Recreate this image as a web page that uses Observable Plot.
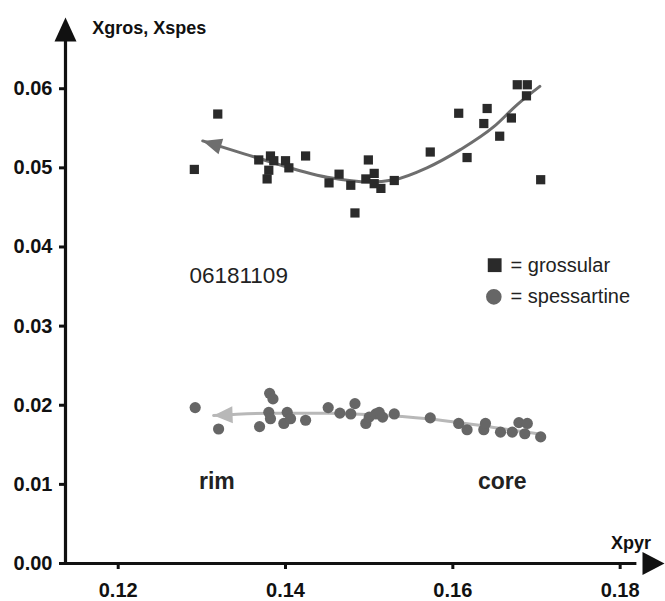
<!DOCTYPE html>
<html><head><meta charset="utf-8">
<script src="https://cdn.jsdelivr.net/npm/d3@7"></script>
<script src="https://cdn.jsdelivr.net/npm/@observablehq/plot@0.6"></script>
<style>html,body{margin:0;padding:0;background:#fff}#chart svg{display:block}</style>
</head><body><div id="chart"></div>
<script>
// ---- scales / ticks ----
const xDomain = [0.1137, 0.1853];
const yDomain = [0, 0.069];
const xTicks = [0.12, 0.14, 0.16, 0.18];
const yTicks = [0, 0.01, 0.02, 0.03, 0.04, 0.05, 0.06];

// ---- grossular (squares) ----
const grosX = [0.1291,0.1319,0.1368,0.1382,0.1386,0.1380,0.1378,0.1400,0.1404,0.1424,0.1452,0.1464,0.1478,0.1483,0.1496,0.1499,0.1506,0.1506,0.1514,0.1530,0.1573,0.1607,0.1617,0.1637,0.1641,0.1656,0.1670,0.1677,0.1689,0.1688,0.1705];
const grosY = [0.0498,0.0568,0.0510,0.0515,0.0509,0.0497,0.0486,0.0509,0.0500,0.0515,0.0481,0.0492,0.0478,0.0443,0.0486,0.0510,0.0493,0.0480,0.0474,0.0484,0.0520,0.0569,0.0513,0.0556,0.0575,0.0540,0.0563,0.0605,0.0605,0.0591,0.0485];

// ---- spessartine (circles) ----
const spesX = [0.1292,0.1320,0.1369,0.1380,0.1381,0.1385,0.1382,0.1398,0.1402,0.1406,0.1424,0.1451,0.1465,0.1478,0.1483,0.1496,0.1500,0.1508,0.1512,0.1516,0.1530,0.1573,0.1607,0.1617,0.1637,0.1639,0.1657,0.1671,0.1679,0.1689,0.1686,0.1705];
const spesY = [0.0197,0.0170,0.0173,0.0191,0.0215,0.0208,0.0183,0.0177,0.0191,0.0183,0.0181,0.0197,0.0190,0.0189,0.0202,0.0177,0.0185,0.0189,0.0191,0.0185,0.0189,0.0184,0.0177,0.0169,0.0169,0.0177,0.0166,0.0166,0.0178,0.0177,0.0164,0.0160];

// ---- trend curves (arrow tip first) ----
const grosCurveX = [0.1301,0.1362,0.1450,0.1500,0.1530,0.1569,0.1609,0.1649,0.1677,0.1704];
const grosCurveY = [0.0534,0.0514,0.0488,0.0482,0.0485,0.0500,0.0523,0.0552,0.0580,0.0603];
const spesCurveX = [0.1314,0.1382,0.1450,0.1502,0.1570,0.1649,0.1702];
const spesCurveY = [0.0187,0.0190,0.0190,0.0188,0.0183,0.0172,0.0164];

// ---- annotations ----
const labelTexts = ["06181109", "rim", "core"];
const labelX = [0.1344, 0.1318, 0.1659];
const labelY = [0.0363, 0.0103, 0.0103];
const legendNames = ["= grossular", "= spessartine"];
const legendSymbols = ["square", "circle"];
const legendColors = ["#2a2a2a", "#666666"];
const legendX = [0.1650, 0.1649];
const legendTextX = 0.1669;
const legendY = [0.0377, 0.0337];
const axisTitleY = "Xgros, Xspes";
const axisTitleX = "Xpyr";

const zip = (xs, ys) => xs.map((x, i) => ({x, y: ys[i]}));
const gros = zip(grosX, grosY);
const spes = zip(spesX, spesY);
const grosCurve = zip(grosCurveX, grosCurveY);
const spesCurve = zip(spesCurveX, spesCurveY);
const labels = labelTexts.map((t, i) => ({t, x: labelX[i], y: labelY[i]}));
const legend = legendNames.map((t, i) => ({t, s: legendSymbols[i], c: legendColors[i], x: legendX[i], y: legendY[i]}));

const head = (w) => ({draw(ctx, l) { ctx.moveTo(0, -l); ctx.lineTo(-w, 0); ctx.lineTo(w, 0); ctx.closePath(); }});
const font = "'Liberation Sans', Arial, Helvetica, sans-serif";

const chart = Plot.plot({
  width: 665, height: 601,
  marginLeft: 65, marginRight: 1, marginTop: 17, marginBottom: 38,
  x: {domain: xDomain},
  y: {domain: yDomain},
  style: {fontFamily: font, background: "white", color: "black"},
  marks: [
    // axes lines
    Plot.ruleX([xDomain[0]], {y1: 0, y2: 0.066, stroke: "#111", strokeWidth: 3.2}),
    Plot.ruleY([0], {x1: xDomain[0], x2: 0.182, stroke: "#111", strokeWidth: 3.2}),
    Plot.vector([{x: xDomain[0], y: yDomain[1]}], {x: "x", y: "y", length: 24, anchor: "end", rotate: 0, shape: head(11), fill: "#111", stroke: "none"}),
    Plot.vector([{x: xDomain[1], y: 0}], {x: "x", y: "y", length: 22, anchor: "end", rotate: 90, shape: head(11.5), fill: "#111", stroke: "none"}),
    Plot.axisX(xTicks, {tickFormat: d3.format(".2f"), tickSize: 6, tickPadding: 13, fontSize: 20, fontWeight: "bold", strokeWidth: 3, stroke: "#111", fill: "#111", label: null}),
    Plot.axisY(yTicks, {tickFormat: d3.format(".2f"), tickSize: 6, tickPadding: 7, fontSize: 20, fontWeight: "bold", strokeWidth: 3, stroke: "#111", fill: "#111", label: null}),
    // axis titles
    Plot.text([axisTitleY], {x: 0.1169, y: 0.0677, text: d => d, textAnchor: "start", fontSize: 18, fontWeight: "bold", fill: "#111"}),
    Plot.text([axisTitleX], {x: 0.1813, y: 0.0026, text: d => d, fontSize: 18, fontWeight: "bold", fill: "#111"}),
    // trend curves
    Plot.line(spesCurve, {x: "x", y: "y", curve: "monotone-x", stroke: "#b8b8b8", strokeWidth: 3}),
    Plot.vector([spesCurve[0]], {x: "x", y: "y", length: 19, anchor: "end", rotate: -92, shape: head(8.5), fill: "#b8b8b8", stroke: "none"}),
    Plot.line(grosCurve, {x: "x", y: "y", curve: "monotone-x", stroke: "#6e6e6e", strokeWidth: 3}),
    Plot.vector([grosCurve[0]], {x: "x", y: "y", length: 19, anchor: "end", rotate: -73, shape: head(8), fill: "#6e6e6e", stroke: "none"}),
    // data
    Plot.dot(spes, {x: "x", y: "y", r: 5.6, symbol: "circle", fill: "#666666", stroke: "none"}),
    Plot.dot(gros, {x: "x", y: "y", r: 5.2, symbol: "square", fill: "#2a2a2a", stroke: "none"}),
    // annotations
    Plot.text(labels.slice(0, 1), {x: "x", y: "y", text: "t", fontSize: 22.5, fill: "#222"}),
    Plot.text(labels.slice(1), {x: "x", y: "y", text: "t", fontSize: 23, fontWeight: "bold", fill: "#222"}),
    // legend
    Plot.dot(legend, {x: "x", y: "y", symbol: "s", fill: "c", r: 7.8, stroke: "none"}),
    Plot.text(legend, {x: legendTextX, y: "y", text: "t", textAnchor: "start", fontSize: 20, fill: "#222"})
  ]
});
document.getElementById("chart").appendChild(chart);
</script>
</body></html>
